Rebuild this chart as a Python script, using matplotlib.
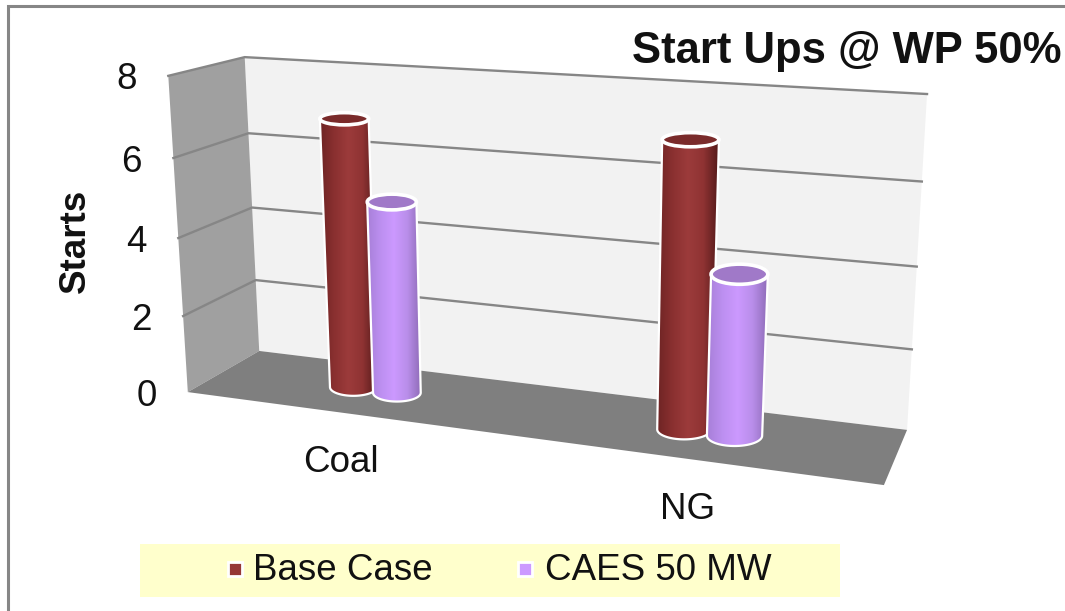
#!/usr/bin/env python3
"""3-D style cylinder chart of start ups per fuel type, drawn with a small
projective camera on top of a plain pixel-sized axes."""
import numpy as np
import matplotlib
matplotlib.use("Agg")
import matplotlib.pyplot as plt
from matplotlib.colors import LinearSegmentedColormap
from matplotlib.patches import Ellipse, Polygon, Rectangle

plt.rcParams["font.family"] = ["Liberation Sans", "DejaVu Sans"]

W, H = 1065, 611

CATEGORIES = ["Coal", "NG"]
SERIES = ["Base Case", "CAES 50 MW"]
BASE_CASE = [6.9, 6.95]
CAES_50 = [4.92, 3.92]
Y_TICKS = [0, 2, 4, 6, 8]

# box corners (u across, value, d into the page) -> where they land in pixels
CAMERA_REF = [
    ((0, 0, 0), (188, 392)),
    ((0, 0, 1), (259, 351)),
    ((1, 0, 1), (907, 430)),
    ((1, 0, 0), (884, 485)),
    ((0, 8, 0), (168, 76)),
    ((0, 8, 1), (245, 57)),
    ((1, 8, 1), (927, 94)),
]

BRICK = ["#6e2424", "#8a3030", "#9c3b3b", "#8f3333", "#541a1a"]
LILAC = ["#a77fd8", "#bc8ff0", "#cc99ff", "#b98eea", "#8f6cb8"]
TOPS = ["#7a2b2b", "#a079c8"]
LEGEND_COLORS = ["#953735", "#cc99ff"]
FONT_SIZE = 26.5


def fit_camera(refs):
    """Least squares 3x4 projection from the reference corners."""
    rows, rhs = [], []
    for (u, v, d), (px, py) in refs:
        rows.append([u, v, d, 1, 0, 0, 0, 0, -px * u, -px * v, -px * d])
        rows.append([0, 0, 0, 0, u, v, d, 1, -py * u, -py * v, -py * d])
        rhs += [px, py]
    sol = np.linalg.lstsq(np.array(rows, float), np.array(rhs, float), rcond=None)[0]
    return np.append(sol, 1.0).reshape(3, 4)


CAM = fit_camera(CAMERA_REF)


def proj(u, v, d):
    x, y, w = CAM @ np.array([u, v, d, 1.0])
    return np.array([x / w, y / w])


def cylinder(ax, u, value, cmap, top_color, z, ru=0.038, rd=0.20, rd_top=0.26, dc=0.5):
    bot, top = proj(u, 0, dc), proj(u, value, dc)

    def half_sizes(v, r):
        w = abs(proj(u + ru, v, dc)[0] - proj(u - ru, v, dc)[0]) / 2
        h = abs(proj(u, v, dc + r)[1] - proj(u, v, dc - r)[1]) / 2
        return w, h

    wb, hb = half_sizes(0, rd)
    wt, ht = half_sizes(value, rd_top)
    t = np.linspace(np.pi, 0, 60)
    # side silhouette: top rim edge down to the rounded bottom, the cap hides the top
    outline = [(top[0] - wt, top[1])]
    outline += [(bot[0] + wb * np.cos(a), bot[1] + hb * np.sin(a)) for a in t]
    outline += [(top[0] + wt, top[1])]
    body = Polygon(outline, closed=True, fc="none", ec="none", zorder=z)
    ax.add_patch(body)

    x0 = min(top[0] - wt, bot[0] - wb)
    x1 = max(top[0] + wt, bot[0] + wb)
    img = ax.imshow(np.linspace(0, 1, 128).reshape(1, -1), cmap=cmap, aspect="auto",
                    extent=(x0, x1, bot[1] + hb, top[1] - ht), zorder=z + 0.1,
                    interpolation="bilinear")
    img.set_clip_path(body)
    ax.add_patch(Polygon(outline, closed=True, fc="none", ec="white", lw=1.6, zorder=z + 0.2))
    ax.add_patch(Ellipse(top, 2 * wt, 2 * ht, fc=top_color, ec="white", lw=2.6, zorder=z + 0.3))


fig = plt.figure(figsize=(W / 100, H / 100), dpi=100, facecolor="white")
ax = fig.add_axes([0, 0, 1, 1])
ax.set_xlim(0, W)
ax.set_ylim(H, 0)
ax.axis("off")

# frame on the top and left
ax.plot([8, 8, W], [H, 6, 6], color="#868686", lw=2.2, solid_joinstyle="miter", zorder=1)

v_top = Y_TICKS[-1]
floor = [proj(0, 0, 0), proj(0, 0, 1), proj(1, 0, 1), proj(1, 0, 0)]
back = [proj(0, 0, 1), proj(0, v_top, 1), proj(1, v_top, 1), proj(1, 0, 1)]
side = [proj(0, 0, 0), proj(0, v_top, 0), proj(0, v_top, 1), proj(0, 0, 1)]
ax.add_patch(Polygon(back, fc="#f2f2f2", ec="none", zorder=2))
ax.add_patch(Polygon(side, fc="#a0a0a0", ec="none", zorder=2))
ax.add_patch(Polygon(floor, fc="#7f7f7f", ec="none", zorder=2.5))

for tick in Y_TICKS:
    front = proj(0, tick, 0)
    ax.text(front[0] - 41.5, front[1] + 4, str(tick), fontsize=FONT_SIZE, ha="center", va="center", color="#111111")
    if tick == 0:
        continue
    pts = np.array([front, proj(0, tick, 1), proj(1, tick, 1)])
    ax.plot(pts[:, 0], pts[:, 1], color="#868686", lw=1.7, zorder=3)

# category slots in u, series side by side inside them
slot_centers = [0.25, 0.75]
offset = 0.035
cmaps = [LinearSegmentedColormap.from_list("brick", BRICK),
         LinearSegmentedColormap.from_list("lilac", LILAC)]
for i, center in enumerate(slot_centers):
    cylinder(ax, center - offset, BASE_CASE[i], cmaps[0], TOPS[0], 5)
    cylinder(ax, center + offset, CAES_50[i], cmaps[1], TOPS[1], 6)
    lab = proj(center, 0, 0)
    ax.text(lab[0] - 2, lab[1] + 50, CATEGORIES[i], fontsize=FONT_SIZE, ha="center", va="center", color="#111111")

ax.set_xlim(0, W)
ax.set_ylim(H, 0)

ax.text(1062, 51, "Start Ups @ WP 50%", fontsize=31.4, fontweight="bold", ha="right", va="center", color="#111111")
ax.text(75, 241, "Starts", fontsize=FONT_SIZE, fontweight="bold", rotation=90, ha="center", va="center", color="#111111")

# legend strip
ax.add_patch(Rectangle((140, 544), 700, 53, fc="#ffffcc", ec="none", zorder=2))
for x_mark, x_text, name, color in zip((235, 525), (253, 545), SERIES, LEGEND_COLORS):
    ax.add_patch(Rectangle((x_mark - 7, 562), 14, 14, fc=color, ec="white", lw=2, zorder=3))
    ax.text(x_text, 571, name, fontsize=FONT_SIZE, ha="left", va="center", zorder=3, color="#111111")

fig.savefig("out.png", dpi=100)
